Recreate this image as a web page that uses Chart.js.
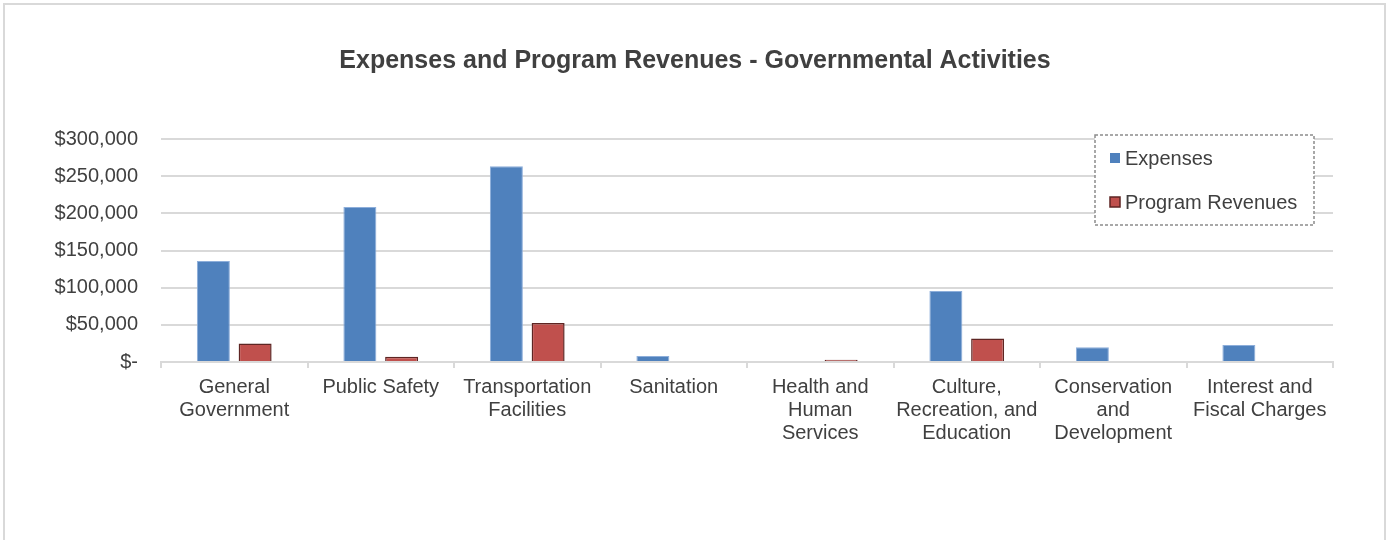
<!DOCTYPE html>
<html>
<head>
<meta charset="utf-8">
<script src="https://cdn.jsdelivr.net/npm/chart.js@4.4.1/dist/chart.umd.min.js"></script>
<style>
  body { margin: 0; background: #fff; }
  canvas { display: block; }
</style>
</head>
<body>
<canvas id="grafico" width="1390" height="540"></canvas>
<script>
const categorias = [
    ['General', 'Government'],
    ['Public Safety'],
    ['Transportation', 'Facilities'],
    ['Sanitation'],
    ['Health and', 'Human', 'Services'],
    ['Culture,', 'Recreation, and', 'Education'],
    ['Conservation', 'and', 'Development'],
    ['Interest and', 'Fiscal Charges']
];
const despesas = [136000, 208500, 263500, 8000, 0, 95500, 20000, 23000];
const receitas = [25000, 7000, 52500, 0, 3000, 31500, 0, 0];
const rotulosY = ['$-', '$50,000', '$100,000', '$150,000', '$200,000', '$250,000', '$300,000'];

const fonte = "'Liberation Sans', Arial, sans-serif";
const corTexto = '#404040';

// moldura cinza em volta do grafico
const moldura = {
    id: 'moldura',
    beforeDraw(chart) {
        const ctx = chart.ctx;
        ctx.save();
        ctx.fillStyle = '#fff';
        ctx.fillRect(0, 0, chart.width, chart.height);
        ctx.strokeStyle = '#d9d9d9';
        ctx.lineWidth = 2;
        ctx.strokeRect(4, 4, 1381, 600);
        ctx.restore();
    }
};

// legenda dentro da area do grafico, com borda tracejada
const legendaCaixa = {
    id: 'legendaCaixa',
    afterDraw(chart) {
        const ctx = chart.ctx;
        ctx.save();
        ctx.setLineDash([3, 2]);
        ctx.strokeStyle = '#8c8c8c';
        ctx.lineWidth = 1.5;
        ctx.fillStyle = '#fff';
        ctx.fillRect(1095, 135, 219, 90);
        ctx.strokeRect(1095, 135, 219, 90);
        ctx.setLineDash([]);
        ctx.font = '20px ' + fonte;
        ctx.textBaseline = 'middle';
        chart.data.datasets.forEach((ds, i) => {
            const y = 158 + i * 44;
            ctx.fillStyle = ds.backgroundColor;
            ctx.fillRect(1110, y - 5, 10, 10);
            if (i === 1) {
                ctx.strokeStyle = ds.borderColor;
                ctx.lineWidth = 1.5;
                ctx.strokeRect(1110, y - 5, 10, 10);
            }
            ctx.fillStyle = corTexto;
            ctx.fillText(ds.label, 1125, y + 1);
        });
        ctx.restore();
    }
};

const ctx = document.getElementById('grafico').getContext('2d');

const grafico = new Chart(ctx, {
    type: 'bar',
    data: {
        labels: categorias,
        datasets: [{
            label: 'Expenses',
            data: despesas,
            backgroundColor: '#4F81BD',
            borderColor: '#8DAEDA',
            borderWidth: 1,
            categoryPercentage: 0.57,
            barPercentage: 0.79
        }, {
            label: 'Program Revenues',
            data: receitas,
            backgroundColor: '#C0504D',
            borderColor: '#5E2523',
            borderWidth: 1.5,
            categoryPercentage: 0.57,
            barPercentage: 0.79
        }]
    },
    options: {
        responsive: false,
        animation: false,
        devicePixelRatio: 1,
        layout: {
            padding: { left: 0, right: 0, top: 0, bottom: 0 }
        },
        plugins: {
            legend: { display: false },
            tooltip: { enabled: false },
            title: {
                display: true,
                text: 'Expenses and Program Revenues - Governmental Activities',
                color: corTexto,
                font: { family: fonte, size: 25, weight: 'bold', lineHeight: 1.2 },
                padding: { top: 46, bottom: 63 }
            }
        },
        scales: {
            x: {
                grid: {
                    display: true,
                    drawOnChartArea: false,
                    drawTicks: true,
                    tickLength: 6,
                    color: '#d9d9d9',
                    lineWidth: 2
                },
                border: { color: '#d9d9d9', width: 2 },
                ticks: {
                    color: corTexto,
                    font: { family: fonte, size: 20, lineHeight: 1.15 },
                    padding: 8,
                    maxRotation: 0,
                    autoSkip: false
                },
                afterFit(scale) {
                    scale.height = 178;
                }
            },
            y: {
                min: 0,
                max: 300000,
                grid: {
                    color: '#d9d9d9',
                    lineWidth: 2,
                    drawTicks: false
                },
                border: { display: false },
                ticks: {
                    stepSize: 50000,
                    color: corTexto,
                    font: { family: fonte, size: 20 },
                    padding: 23,
                    callback: (valor, indice) => rotulosY[indice]
                },
                afterFit(scale) {
                    scale.width = 161;
                }
            },
            // eixo vazio na direita so para reservar a margem
            margem: {
                position: 'right',
                grid: { display: false, drawTicks: false },
                border: { display: false },
                ticks: { display: false },
                afterFit(scale) {
                    scale.width = 57;
                }
            }
        }
    },
    plugins: [moldura, legendaCaixa]
});
</script>
</body>
</html>
